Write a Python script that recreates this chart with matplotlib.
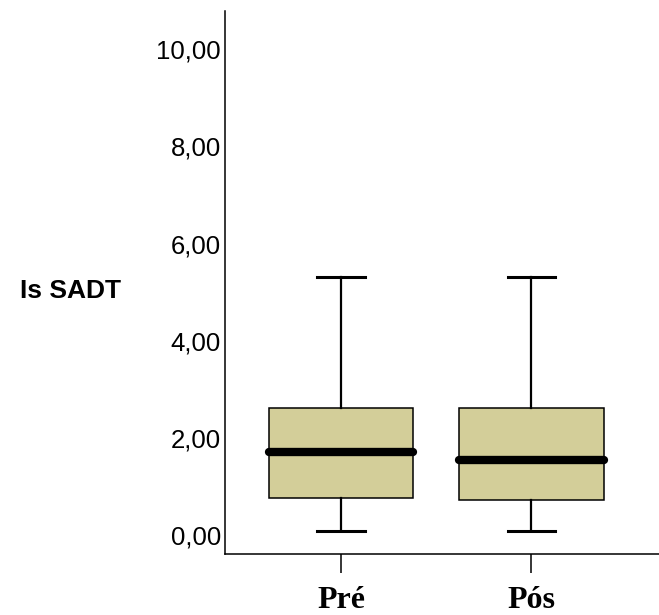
import matplotlib
matplotlib.use("Agg")
import matplotlib.pyplot as plt
from matplotlib.transforms import ScaledTranslation

# values
groups = ["Pré", "Pós"]
whisker_low = [0.0, 0.0]
q1 = [0.69, 0.64]
medians = [1.63, 1.46]
q3 = [2.53, 2.53]
whisker_high = [5.23, 5.23]
y_ticks = [0, 2, 4, 6, 8, 10]
y_tick_labels = ["0,00", "2,00", "4,00", "6,00", "8,00", "10,00"]

box_color = "#D3CE99"

fig = plt.figure(figsize=(6.59, 6.15), dpi=100)
ax = fig.add_axes([0.3414, 0.0992, 0.6586, 0.8829])

stats = []
for i, name in enumerate(groups):
    stats.append({
        "label": name,
        "whislo": whisker_low[i],
        "q1": q1[i],
        "med": medians[i],
        "q3": q3[i],
        "whishi": whisker_high[i],
        "fliers": [],
    })

ax.bxp(stats, positions=[1, 2], widths=0.76, patch_artist=True,
       showfliers=False,
       boxprops=dict(facecolor=box_color, edgecolor="black", linewidth=1.1),
       medianprops=dict(color="black", linewidth=6, solid_capstyle="round"),
       whiskerprops=dict(color="black", linewidth=1.6),
       capprops=dict(color="black", linewidth=2.2),
       capwidths=0.25)

ax.set_xlim(0.39, 2.67)
ax.set_ylim(-0.47, 10.7)

ax.set_yticks(y_ticks)
ax.set_yticklabels(y_tick_labels, fontsize=18.5, family="Liberation Sans")
ax.tick_params(axis="y", length=0, pad=3)
for lab in ax.get_yticklabels():
    lab.set_transform(lab.get_transform() + ScaledTranslation(0, -3 / 72, fig.dpi_scale_trans))

ax.set_xticks([1, 2])
ax.set_xticklabels(groups, fontsize=23, family="Liberation Serif", fontweight="bold")
ax.tick_params(axis="x", length=14, width=1.1, pad=9, direction="out")

for side in ["top", "right"]:
    ax.spines[side].set_visible(False)
for side in ["left", "bottom"]:
    ax.spines[side].set_linewidth(1.1)

fig.text(20 / 659, 1 - 291 / 615, "Is SADT", fontsize=19, fontweight="bold",
         family="Liberation Sans", ha="left", va="center")

fig.savefig("out.png", dpi=100)
